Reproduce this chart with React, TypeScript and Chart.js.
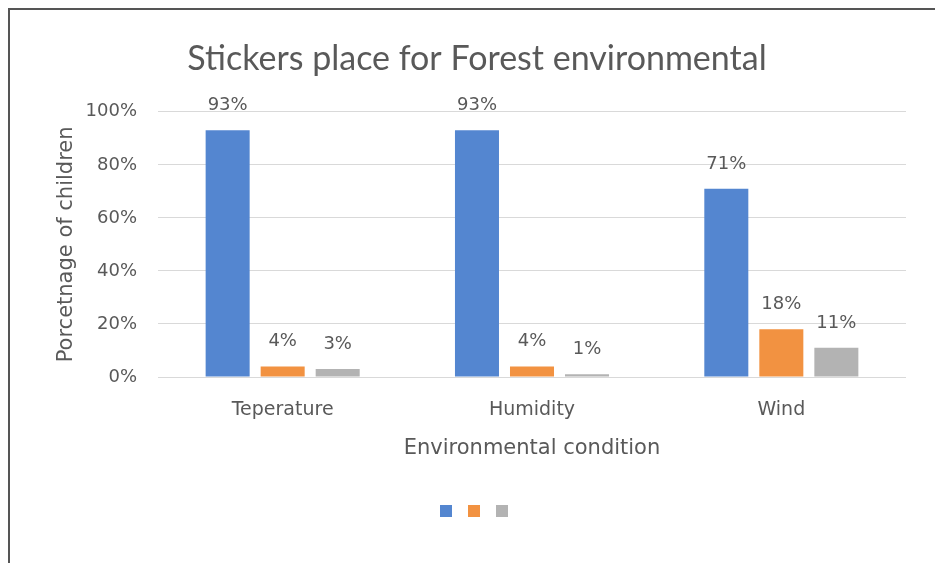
import React, { useEffect, useRef } from "react";
import { Chart, registerables } from "chart.js";

Chart.register(...registerables);

const categories = ["Teperature", "Humidity", "Wind"];
const seriesA = [93, 93, 71];
const seriesB = [4, 4, 18];
const seriesC = [3, 1, 11];
const yTicks = [0, 20, 40, 60, 80, 100];

const TEXT = "#595959";
const TITLE_FONT = "Lato";
const FONT = "'DejaVu Sans'";

const dataLabelPlugin = {
  id: "dataLabels",
  afterDatasetsDraw(chart: any) {
    const ctx = chart.ctx;
    ctx.save();
    ctx.font = `18px ${FONT}`;
    ctx.fillStyle = TEXT;
    ctx.textAlign = "center";
    ctx.textBaseline = "alphabetic";
    chart.data.datasets.forEach((ds: any, di: number) => {
      const meta = chart.getDatasetMeta(di);
      meta.data.forEach((bar: any, i: number) => {
        ctx.fillText(ds.data[i] + "%", bar.x, bar.y - 20);
      });
    });
    ctx.restore();
  },
};

export default function App() {
  const ref = useRef<HTMLCanvasElement>(null);
  useEffect(() => {
    if (!ref.current) return;
    const chart = new Chart(ref.current, {
      type: "bar",
      data: {
        labels: categories,
        datasets: [
          { label: "A", data: seriesA, backgroundColor: "#5486D0" },
          { label: "B", data: seriesB, backgroundColor: "#F29241" },
          { label: "C", data: seriesC, backgroundColor: "#B3B3B3" },
        ],
      },
      options: {
        responsive: false,
        animation: false,
        layout: { padding: { left: 38, right: 29, top: 0, bottom: 36 } },
        datasets: { bar: { categoryPercentage: 0.662, barPercentage: 0.8 } },
        plugins: {
          tooltip: { enabled: false },
          title: {
            display: true,
            text: "Stickers place for Forest environmental",
            color: TEXT,
            font: { family: TITLE_FONT, size: 34, weight: "normal" },
            padding: { top: 29, bottom: 32 },
          },
          legend: {
            position: "bottom",
            labels: {
              boxWidth: 12,
              boxHeight: 12,
              padding: 10,
              font: { family: TITLE_FONT, size: 12 },
              generateLabels: (c: any) =>
                c.data.datasets.map((ds: any, i: number) => ({
                  text: "",
                  fillStyle: ds.backgroundColor,
                  strokeStyle: ds.backgroundColor,
                  lineWidth: 0,
                  datasetIndex: i,
                  hidden: false,
                })),
            },
          },
        },
        scales: {
          x: {
            grid: { display: false, drawTicks: false },
            border: { display: false },
            ticks: { color: TEXT, font: { family: FONT, size: 19 }, padding: 22 },
            title: {
              display: true,
              text: "Environmental condition",
              color: TEXT,
              font: { family: FONT, size: 21 },
              padding: { top: 0, bottom: 34 },
            },
            afterFit: (s: any) => {
              s.height = 118;
            },
          },
          y: {
            min: 0,
            max: 100,
            grid: { color: "#D9D9D9", drawTicks: false },
            border: { display: false },
            afterBuildTicks: (s: any) => {
              s.ticks = yTicks.map((v) => ({ value: v }));
            },
            ticks: {
              color: TEXT,
              font: { family: FONT, size: 18 },
              padding: 21,
              callback: (v: any) => v + "%",
            },
            title: {
              display: true,
              text: "Porcetnage of children",
              color: TEXT,
              font: { family: FONT, size: 21 },
              padding: { top: 6, bottom: 0 },
            },
            afterFit: (s: any) => {
              s.width = 110;
            },
          },
        },
      },
      plugins: [dataLabelPlugin],
    } as any);
    return () => chart.destroy();
  }, []);

  return (
    <div style={{ position: "fixed", inset: 0, overflow: "hidden", background: "#fff" }}>
      <div
        style={{
          position: "absolute",
          left: 8,
          top: 8,
          width: 960,
          height: 600,
          borderTop: "2px solid #555",
          borderLeft: "2px solid #555",
        }}
      >
        <canvas ref={ref} width={925} height={553} style={{ display: "block" }} />
      </div>
    </div>
  );
}
